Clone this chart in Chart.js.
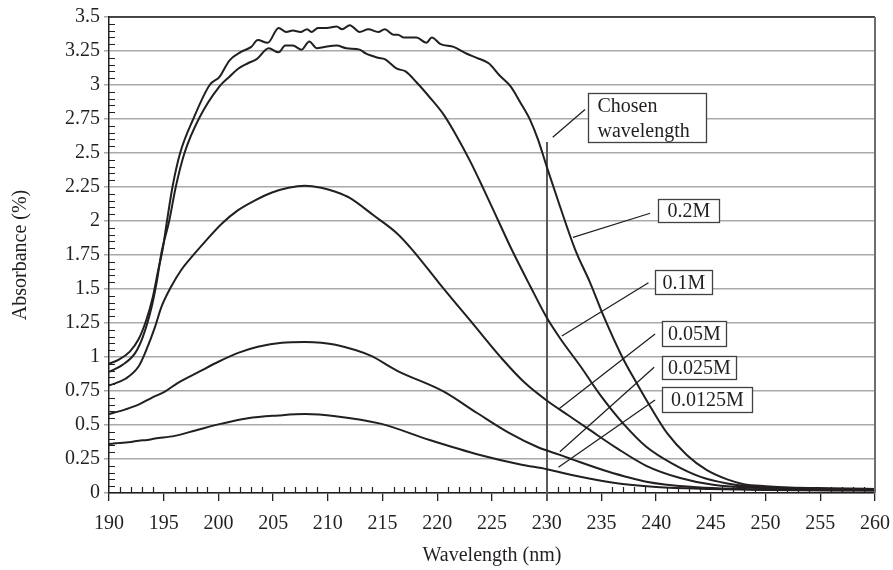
<!DOCTYPE html>
<html lang="en">
<head>
<meta charset="utf-8">
<title>Absorbance vs wavelength</title>
<script src="https://cdn.jsdelivr.net/npm/chart.js@4.4.1/dist/chart.umd.min.js"></script>
<style>
    html, body { margin: 0; padding: 0; background: #fff; }
    #contenedor { width: 893px; height: 570px; }
</style>
</head>
<body>
<div id="contenedor"><canvas id="grafico"></canvas></div>
<script>
const wl02 = [190, 190.9, 191.9, 192.7, 193.4, 194.0, 194.5, 194.9, 195.3, 195.8, 196.5, 197.7, 199.2, 200.1, 201.0, 202.1, 203.0, 203.6, 204.5, 205.5, 206.2, 206.8, 207.5, 208.1, 208.5, 209.1, 209.9, 210.8, 211.3, 212.0, 212.9, 213.7, 214.6, 215.2, 216.0, 216.4, 216.9, 218.1, 219.0, 219.5, 220.3, 221.5, 222.7, 223.6, 224.7, 225.7, 226.7, 227.6, 228.5, 229.2, 230.0, 231.2, 232.6, 234.0, 235.2, 236.9, 238.2, 239.5, 241.0, 242.8, 244.6, 246.5, 248.0, 250.0, 252.2, 256.0, 260.0];
const abs02 = [0.95, 0.98, 1.04, 1.13, 1.27, 1.44, 1.64, 1.79, 2.0, 2.25, 2.5, 2.75, 3.0, 3.06, 3.18, 3.245, 3.28, 3.33, 3.31, 3.42, 3.39, 3.40, 3.39, 3.41, 3.39, 3.42, 3.42, 3.43, 3.41, 3.44, 3.39, 3.41, 3.39, 3.41, 3.37, 3.37, 3.35, 3.35, 3.31, 3.35, 3.30, 3.28, 3.23, 3.20, 3.16, 3.07, 2.99, 2.87, 2.74, 2.60, 2.40, 2.11, 1.79, 1.54, 1.30, 1.00, 0.81, 0.63, 0.44, 0.28, 0.17, 0.10, 0.065, 0.05, 0.04, 0.035, 0.03];

const wl01 = [190, 191.2, 192.4, 193.1, 193.9, 194.4, 194.8, 195.5, 196.1, 196.9, 198.2, 200.1, 201.0, 201.8, 202.7, 203.5, 204.6, 205.5, 206.1, 206.8, 207.6, 208.3, 209.0, 209.7, 210.8, 211.7, 212.9, 213.5, 214.6, 215.2, 216.3, 217.1, 218.1, 219.3, 220.6, 221.8, 223.0, 224.2, 225.7, 226.8, 228.5, 230.0, 231.2, 233.1, 234.9, 237.0, 239.1, 241.6, 244.0, 246.5, 250.0, 255.0, 260.0];
const abs01 = [0.89, 0.94, 1.03, 1.15, 1.37, 1.57, 1.77, 2.0, 2.25, 2.5, 2.75, 2.99, 3.06, 3.12, 3.16, 3.19, 3.27, 3.24, 3.29, 3.29, 3.26, 3.32, 3.27, 3.28, 3.29, 3.27, 3.26, 3.23, 3.20, 3.19, 3.12, 3.10, 3.02, 2.91, 2.78, 2.62, 2.44, 2.24, 1.98, 1.79, 1.52, 1.29, 1.14, 0.93, 0.72, 0.51, 0.34, 0.21, 0.12, 0.07, 0.04, 0.03, 0.025];

const wl005 = [190, 191.5, 192.7, 193.4, 194.2, 194.8, 195.7, 196.6, 197.5, 198.8, 200.3, 201.8, 203.3, 204.9, 206.4, 207.9, 209.4, 210.7, 212.0, 214.2, 216.3, 217.7, 220.2, 223.3, 226.0, 228.0, 230.0, 232.0, 234.0, 236.4, 239.1, 242.2, 245.2, 250.0, 255.0, 260.0];
const abs005 = [0.79, 0.84, 0.93, 1.05, 1.22, 1.37, 1.52, 1.64, 1.73, 1.85, 1.98, 2.08, 2.15, 2.21, 2.245, 2.26, 2.245, 2.215, 2.17, 2.04, 1.91, 1.79, 1.54, 1.24, 0.98, 0.81, 0.68, 0.57, 0.46, 0.33, 0.20, 0.11, 0.06, 0.035, 0.025, 0.02];

const wl0025 = [190, 191.5, 192.7, 193.9, 195.1, 196.3, 198.2, 200.0, 201.8, 203.6, 205.8, 207.9, 209.4, 210.7, 213.9, 216.3, 220.6, 223.6, 226.6, 229.1, 231.2, 232.4, 235.5, 239.1, 243.1, 250.0, 260.0];
const abs0025 = [0.58, 0.615, 0.65, 0.70, 0.745, 0.81, 0.89, 0.965, 1.03, 1.075, 1.105, 1.11, 1.105, 1.09, 1.01, 0.90, 0.745, 0.59, 0.44, 0.34, 0.28, 0.245, 0.16, 0.083, 0.046, 0.025, 0.02];

const wl00125 = [190, 190.6, 191.2, 192.0, 192.7, 193.5, 194.2, 196.0, 197.9, 200.3, 202.7, 205.5, 207.9, 210.7, 214.8, 219.3, 223.9, 227.6, 230.0, 232.4, 236.1, 240.0, 245.0, 250.0, 260.0];
const abs00125 = [0.36, 0.365, 0.37, 0.375, 0.385, 0.39, 0.40, 0.42, 0.46, 0.51, 0.55, 0.57, 0.58, 0.565, 0.51, 0.39, 0.28, 0.21, 0.175, 0.13, 0.075, 0.045, 0.03, 0.022, 0.018];

// Nombres de las concentraciones, en el mismo orden que las series.
const concentraciones = ['0.2M', '0.1M', '0.05M', '0.025M', '0.0125M'];

// Longitud de onda elegida y altura hasta donde llega su línea vertical.
const LONGITUD_ELEGIDA = 230;
const TOPE_ELEGIDA = 2.58;

// Cajas de texto con su línea guía (coordenadas en nm y absorbancia).
const notas = [
    { texto: ['Chosen', 'wavelength'], caja: [233.8, 2.94], ancho: 118, alto: 49, desde: [233.5, 2.82], hasta: [230.55, 2.615] },
    { texto: ['0.2M'], caja: [240.2, 2.16], ancho: 61, alto: 23, desde: [239.45, 2.057], hasta: [232.4, 1.88] },
    { texto: ['0.1M'], caja: [239.94, 1.64], ancho: 57, alto: 24, desde: [239.3, 1.546], hasta: [231.38, 1.154] },
    { texto: ['0.05M'], caja: [240.52, 1.265], ancho: 64, alto: 25, desde: [239.9, 1.169], hasta: [231.07, 0.615] },
    { texto: ['0.025M'], caja: [240.52, 1.01], ancho: 74, alto: 23, desde: [239.82, 0.924], hasta: [231.2, 0.304] },
    { texto: ['0.0125M'], caja: [240.52, 0.777], ancho: 90, alto: 25, desde: [239.9, 0.684], hasta: [231.07, 0.189] }
];

const TINTA = '#231f20';
const FUENTE = "'Liberation Serif', 'Times New Roman', serif";

// Convierte dos arreglos en puntos {x, y}.
const serie = (wl, abs) => wl.map((x, i) => ({ x: x, y: abs[i] }));

const SERIES = [serie(wl02, abs02), serie(wl01, abs01), serie(wl005, abs005), serie(wl0025, abs0025), serie(wl00125, abs00125)];

// Línea vertical de la longitud de onda elegida.
const lineaElegida = {
    id: 'lineaElegida',
    beforeDatasetsDraw(chart) {
        const { ctx, chartArea, scales: { x, y } } = chart;
        const px = Math.round(x.getPixelForValue(LONGITUD_ELEGIDA));
        ctx.save();
        ctx.strokeStyle = '#58595b';
        ctx.lineWidth = 2;
        ctx.beginPath();
        ctx.moveTo(px, y.getPixelForValue(TOPE_ELEGIDA));
        ctx.lineTo(px, chartArea.bottom + 8);
        ctx.stroke();
        ctx.restore();
    }
};

// Marcas menores, borde superior y derecho del área.
const marcasMenores = {
    id: 'marcasMenores',
    afterDraw(chart) {
        const { ctx, chartArea: a, scales: { x, y } } = chart;
        ctx.save();
        ctx.strokeStyle = TINTA;
        ctx.lineWidth = 1.2;
        ctx.beginPath();
        for (let i = 1; i < 70; i++) {
            if (i % 5 === 0) continue;
            const py = Math.round(y.getPixelForValue(i * 0.05)) + 0.5;
            ctx.moveTo(a.left, py);
            ctx.lineTo(a.left + 6, py);
        }
        for (let n = 191; n < 260; n++) {
            if (n % 5 === 0) continue;
            const px = Math.round(x.getPixelForValue(n)) + 0.5;
            ctx.moveTo(px, a.bottom);
            ctx.lineTo(px, a.bottom - 6);
        }
        ctx.stroke();
        ctx.lineWidth = 1.5;
        ctx.beginPath();
        ctx.moveTo(a.left, a.top);
        ctx.lineTo(a.right, a.top);
        ctx.stroke();
        ctx.strokeStyle = '#6d6e71';
        ctx.lineWidth = 2;
        ctx.beginPath();
        ctx.moveTo(a.right, a.top);
        ctx.lineTo(a.right, a.bottom);
        ctx.stroke();
        ctx.restore();
    }
};

// Cajas con las etiquetas de concentración y la longitud de onda elegida.
const anotaciones = {
    id: 'anotaciones',
    afterDatasetsDraw(chart) {
        const { ctx, scales: { x, y } } = chart;
        ctx.save();
        notas.forEach(nota => {
            // Línea guía.
            ctx.strokeStyle = TINTA;
            ctx.lineWidth = 1.3;
            ctx.beginPath();
            ctx.moveTo(x.getPixelForValue(nota.desde[0]), y.getPixelForValue(nota.desde[1]));
            ctx.lineTo(x.getPixelForValue(nota.hasta[0]), y.getPixelForValue(nota.hasta[1]));
            ctx.stroke();
            // Caja blanca con borde.
            const bx = Math.round(x.getPixelForValue(nota.caja[0])) + 0.5;
            const by = Math.round(y.getPixelForValue(nota.caja[1])) + 0.5;
            ctx.fillStyle = '#fff';
            ctx.fillRect(bx, by, nota.ancho, nota.alto);
            ctx.strokeStyle = '#414042';
            ctx.strokeRect(bx, by, nota.ancho, nota.alto);
            // Texto.
            ctx.fillStyle = TINTA;
            ctx.font = `20px ${FUENTE}`;
            ctx.textBaseline = 'middle';
            const alto = nota.alto / nota.texto.length;
            nota.texto.forEach((linea, i) => {
                const pad = nota.texto.length > 1 ? 9 : (nota.ancho - ctx.measureText(linea).width) / 2;
                ctx.fillText(linea, bx + pad, by + alto * (i + 0.5) + 1);
            });
        });
        ctx.restore();
    }
};

// Creación del gráfico.
new Chart(document.getElementById('grafico'), {
    type: 'line',
    data: {
        datasets: SERIES.map((datos, i) => ({
            label: concentraciones[i],
            data: datos,
            borderColor: TINTA,
            borderWidth: 2,
            pointRadius: 0,
            fill: false,
            cubicInterpolationMode: 'monotone'
        }))
    },
    options: {
        responsive: true,
        maintainAspectRatio: false,
        animation: false,
        devicePixelRatio: 1,
        layout: { padding: { top: 17, right: 18, left: 0, bottom: 0 } },
        plugins: {
            legend: { display: false },
            tooltip: { enabled: false }
        },
        scales: {
            x: {
                type: 'linear',
                min: 190,
                max: 260,
                afterFit: scale => {
                    scale.height = 77;
                    scale.paddingLeft = 0;
                    scale.paddingRight = 0;
                },
                border: { display: true, color: TINTA, width: 1.5 },
                grid: { drawOnChartArea: false, drawTicks: true, tickLength: 8, color: TINTA, lineWidth: 1.3 },
                ticks: {
                    stepSize: 5,
                    padding: 11,
                    color: TINTA,
                    maxRotation: 0,
                    font: { family: FUENTE, size: 20 },
                    callback: v => v
                },
                title: {
                    display: true,
                    text: 'Wavelength (nm)',
                    color: TINTA,
                    font: { family: FUENTE, size: 20 },
                    padding: { top: 0, bottom: 2 }
                }
            },
            y: {
                min: 0,
                max: 3.5,
                afterFit: scale => {
                    scale.width = 109;
                    scale.paddingTop = 0;
                    scale.paddingBottom = 0;
                },
                border: { display: true, color: TINTA, width: 1.5 },
                grid: { color: '#a7a9ac', lineWidth: 1.5, drawTicks: true, tickLength: 5 },
                ticks: {
                    stepSize: 0.25,
                    padding: 4,
                    color: TINTA,
                    font: { family: FUENTE, size: 20 },
                    callback: v => String(+v.toFixed(2))
                },
                title: {
                    display: true,
                    text: 'Absorbance (%)',
                    color: TINTA,
                    font: { family: FUENTE, size: 20 },
                    padding: { top: 9, bottom: 0 }
                }
            }
        }
    },
    plugins: [lineaElegida, anotaciones, marcasMenores]
});
</script>
</body>
</html>
